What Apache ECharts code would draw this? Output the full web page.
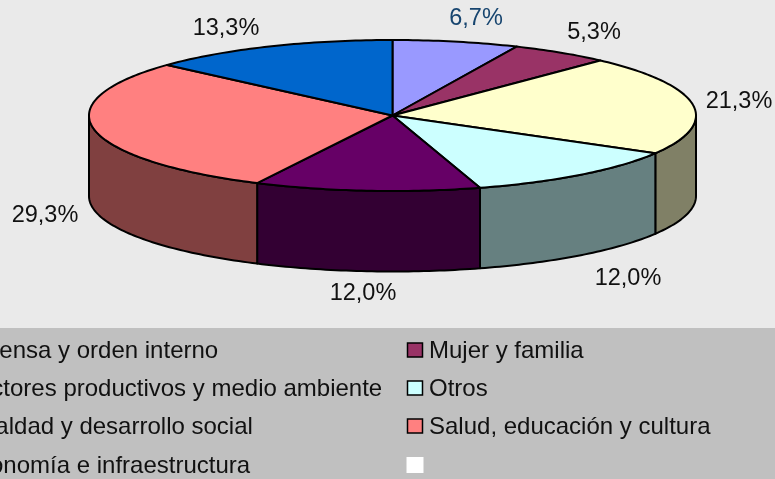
<!DOCTYPE html>
<html>
<head>
<meta charset="utf-8">
<title>Pie</title>
<style>
  html, body { margin: 0; padding: 0; background: #eaeaea; }
  #main { width: 775px; height: 479px; }
</style>
<script src="https://cdn.jsdelivr.net/npm/echarts@6/dist/echarts.min.js"></script>
</head>
<body>
<div id="main"></div>
<script>
// slices clockwise from 12 o'clock, the last one is the empty legend entry
const categories = ['Defensa y orden interno', 'Mujer y familia', 'Sectores productivos y medio ambiente', 'Otros', 'Igualdad y desarrollo social', 'Salud, educación y cultura', 'Economía e infraestructura', ''];
const values = [6.7, 5.3, 21.3, 12.0, 12.0, 29.3, 13.3, 0];
const topColors = ['#9999ff', '#993366', '#ffffcc', '#ccffff', '#660066', '#ff8080', '#0066cc', '#ffffff'];
const sideColors = ['#4c4c80', '#4c1933', '#808066', '#668080', '#330033', '#804040', '#003366', '#808080'];

// layout
const cx = 392.5, cy = 115.5, rx = 303.5, ry = 75.5, depth = 80.5;
const labelPos = [[476, 19], [594, 33], [739, 102], [628, 279], [363, 294], [45, 216], [226, 29]];
const labelColors = ['#17456f', '#111', '#111', '#111', '#111', '#111', '#111'];
const FONT = '"Liberation Sans", Arial, sans-serif';
const legendTop = 328, legendX = [-38, 429], legendY = [350, 388, 426, 465];

const total = values.reduce((a, b) => a + b, 0);
let acc = 0;
const sliceData = values.map((v, i) => {
    const start = acc / total * 360;
    acc += v;
    return [start, acc / total * 360, i];
}).filter(d => d[1] > d[0]);

function pt(deg, dy) {
    const a = deg * Math.PI / 180;
    return [cx + rx * Math.sin(a), cy - ry * Math.cos(a) + (dy || 0)];
}

function arc(from, to, dy) {
    const pts = [];
    const n = Math.max(2, Math.ceil(Math.abs(to - from)));
    for (let k = 0; k <= n; k++) pts.push(pt(from + (to - from) * k / n, dy));
    return pts;
}

function renderTop(params, api) {
    const i = api.value(2);
    return {
        type: 'polygon',
        shape: { points: [[cx, cy]].concat(arc(api.value(0), api.value(1))) },
        style: { fill: topColors[i], stroke: '#000', lineWidth: 2, lineJoin: 'round' }
    };
}

function renderSide(params, api) {
    const i = api.value(2);
    // only the front half of the rim can be seen
    const a = Math.max(api.value(0), 90), b = Math.min(api.value(1), 270);
    if (b <= a) return null;
    return {
        type: 'polygon',
        shape: { points: arc(a, b).concat(arc(b, a, depth)) },
        style: { fill: sideColors[i], stroke: '#000', lineWidth: 2, lineJoin: 'round' }
    };
}

function renderLabel(params, api) {
    const i = api.value(2);
    return {
        type: 'text',
        style: {
            x: labelPos[i][0], y: labelPos[i][1],
            text: values[i].toFixed(1).replace('.', ',') + '%',
            fill: labelColors[i], font: '23.5px ' + FONT,
            align: 'center', verticalAlign: 'middle'
        }
    };
}

const legendGraphics = [{
    type: 'rect', z: 0,
    shape: { x: 0, y: legendTop, width: 775, height: 479 - legendTop },
    style: { fill: '#c0c0c0' }
}];
categories.forEach((name, i) => {
    const col = i % 2, row = (i - col) / 2;
    const y = legendY[row];
    // the empty entry has no border, so its box is drawn a little bigger
    const grow = name ? 0 : 1;
    legendGraphics.push({
        type: 'rect', z: 1,
        shape: { x: legendX[col] - 21.5 - grow, y: y - 7 - grow, width: 15 + 2 * grow, height: 14 + 2 * grow },
        style: { fill: topColors[i], stroke: name ? '#000' : null, lineWidth: 1.5 }
    });
    if (name) legendGraphics.push({
        type: 'text', z: 1,
        style: { x: legendX[col], y: y + 1, text: name, fill: '#111', font: '24px ' + FONT, verticalAlign: 'middle' }
    });
});

const chart = echarts.init(document.getElementById('main'), null, { renderer: 'canvas' });
chart.setOption({
    backgroundColor: '#eaeaea',
    animation: false,
    graphic: legendGraphics,
    series: [
        { type: 'custom', coordinateSystem: 'none', silent: true, z: 2, clip: false, data: sliceData, renderItem: renderSide },
        { type: 'custom', coordinateSystem: 'none', silent: true, z: 3, clip: false, data: sliceData, renderItem: renderTop },
        { type: 'custom', coordinateSystem: 'none', silent: true, z: 4, clip: false, data: sliceData, renderItem: renderLabel }
    ]
});
</script>
</body>
</html>
